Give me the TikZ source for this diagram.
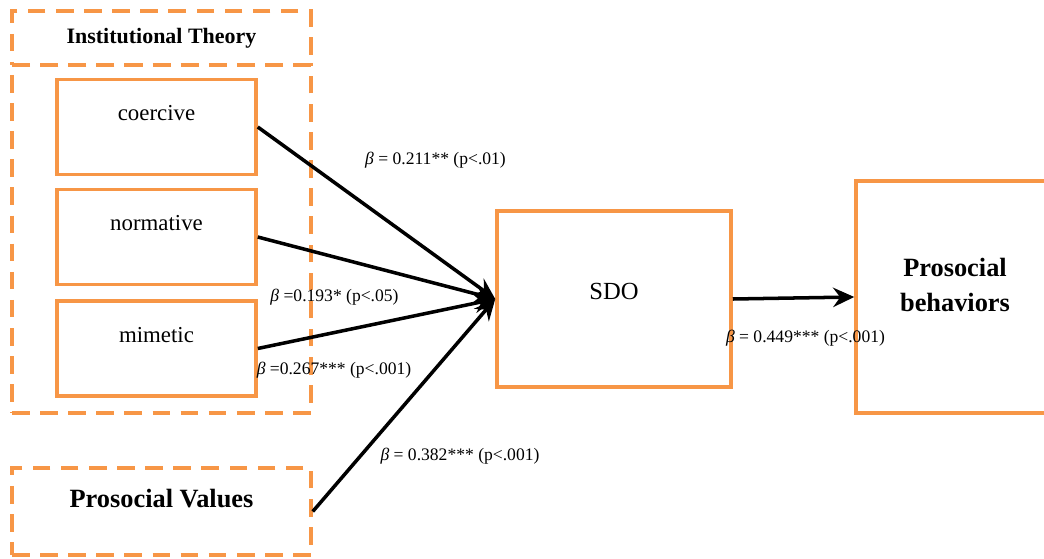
\documentclass[tikz,border=0pt]{standalone}
\usepackage{fontspec}
\setmainfont{Liberation Serif}
\usetikzlibrary{arrows.meta}

\definecolor{boxorange}{HTML}{F79646}

\tikzset{
    groupbox/.style={draw=boxorange, line width=2pt, dash pattern=on 10pt off 6pt, minimum width=5.98cm},
    construct/.style={draw=boxorange, line width=2pt, minimum width=3.98cm, minimum height=1.9cm,
        font=\fontsize{13}{15.6}\selectfont, text height=9pt, text depth=16pt},
    outcome/.style={draw=boxorange, line width=2pt},
    effect/.style={draw, line width=2pt, -{Stealth[length=12pt, width=11pt, inset=4pt]}},
    coef/.style={font=\fontsize{10}{12}\selectfont}
}

\begin{document}
\begin{tikzpicture}

    % Fix the page size and cut what runs past the right edge
    \useasboundingbox (0, 0) rectangle (20.88, 11.16);
    \clip (0, 0) rectangle (20.88, 11.16);

    % Draw the dashed frames on the left
    \node[groupbox, minimum height=1.08cm, font=\bfseries\fontsize{12.5}{15}\selectfont] (inst) at (3.23, 10.40) {Institutional Theory};
    \node[groupbox, minimum height=6.96cm] (group) at (3.23, 6.38) {};
    \node[groupbox, minimum height=1.74cm, font=\bfseries\fontsize{15}{18}\selectfont,
        text height=10pt, text depth=14pt] (values) at (3.23, 0.93) {Prosocial Values};

    % Draw the three pressures inside the frame
    \foreach \name/\y in {coercive/8.62, normative/6.42, mimetic/4.19} {
        \node[construct] (\name) at (3.13, \y) {\name};
    }

    % Draw the mediator and the outcome
    \node[outcome, minimum width=4.68cm, minimum height=3.52cm, font=\fontsize{14}{17}\selectfont,
        text height=9.3pt, text depth=9pt] (sdo) at (12.28, 5.18) {SDO};
    \node[outcome, minimum width=3.96cm, minimum height=4.64cm, align=center,
        font=\bfseries\fontsize{15}{20}\selectfont, text depth=14pt] (pb) at (19.10, 5.22) {Prosocial\\behaviors};

    % Draw the paths
    \foreach \name in {coercive, normative, mimetic} {
        \draw[effect] (\name.east) -- (sdo.west);
    }
    \draw[effect] (values.east) -- (sdo.west);
    \draw[effect] (sdo.east) -- (pb.west);

    % Add the coefficients
    \node[coef] (b1) at (8.71, 7.96) {\textit{β} = 0.211** (p<.01)};
    \node[coef] (b2) at (6.69, 5.22) {\textit{β} =0.193* (p<.05)};
    \node[coef] (b3) at (6.68, 3.76) {\textit{β} =0.267*** (p<.001)};
    \node[coef] (b4) at (9.20, 2.04) {\textit{β} = 0.382*** (p<.001)};
    \node[coef] (b5) at (16.11, 4.40) {\textit{β} = 0.449*** (p<.001)};

\end{tikzpicture}
\end{document}
